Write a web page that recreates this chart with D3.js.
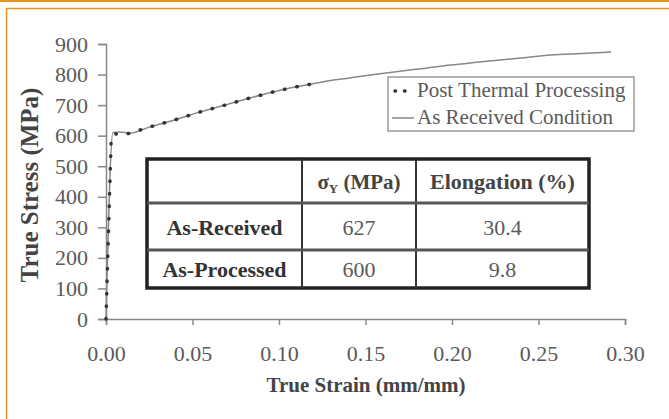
<!DOCTYPE html>
<html>
<head>
<meta charset="utf-8">
<script src="https://cdn.jsdelivr.net/npm/d3@7"></script>
<style>
  body { margin: 0; background: #fff; }
  svg { display: block; }
  text { font-family: "Liberation Serif", "Times New Roman", serif; }
</style>
</head>
<body>
<script>
// data
var receivedStrain = [0, 0.004, 0.008, 0.014, 0.025, 0.04, 0.054, 0.07, 0.083, 0.1, 0.112, 0.125, 0.141, 0.155, 0.17, 0.185, 0.199, 0.214, 0.228, 0.243, 0.257, 0.275, 0.292];
var receivedStress = [0, 610, 612, 608, 628, 652, 677, 702, 723, 748, 762, 776, 789, 800, 811, 821, 831, 840, 848, 856, 864, 869, 874];
var processedStrain = [0, 0.003, 0.005, 0.01, 0.014, 0.025, 0.04, 0.054, 0.07, 0.083, 0.1, 0.112, 0.122];
var processedStress = [0, 590, 606, 604, 608, 628, 652, 677, 702, 723, 748, 762, 772];

var xTicks = [0, 0.05, 0.10, 0.15, 0.20, 0.25, 0.30];
var yTicks = [0, 100, 200, 300, 400, 500, 600, 700, 800, 900];

var legendNames = ["Post Thermal Processing", "As Received Condition"];

var tableHead = ["", "σ", "Elongation (%)"];
var tableRows = ["As-Received", "As-Processed"];
var yieldVals = ["627", "600"];
var elongVals = ["30.4", "9.8"];

var W = 669, H = 419;
var svg = d3.select("body").append("svg")
    .attr("width", W)
    .attr("height", H);

svg.append("rect").attr("width", W).attr("height", H).attr("fill", "#fff");

// orange frame
svg.append("line").attr("x1", 0).attr("x2", W).attr("y1", 1).attr("y2", 1)
    .attr("stroke", "#e8921f").attr("stroke-width", 2);
svg.append("rect").attr("x", 6.5).attr("y", 8.5).attr("width", W).attr("height", H)
    .attr("fill", "none").attr("stroke", "#e8921f").attr("stroke-width", 1.5);

var x = d3.scaleLinear().domain([0, 0.30]).range([106, 625]);
var y = d3.scaleLinear().domain([0, 900]).range([319, 44]);

var grey = "#5a5a5a";

// axes
var xAxis = svg.append("g").attr("transform", "translate(0,319)")
    .call(d3.axisBottom(x).tickValues(xTicks).tickFormat(d3.format(".2f")).tickSizeOuter(0).tickSize(6).tickPadding(20));
var yAxis = svg.append("g").attr("transform", "translate(106,0)")
    .call(d3.axisLeft(y).tickValues(yTicks).tickSizeOuter(0).tickSize(8).tickPadding(10));

[xAxis, yAxis].forEach(function(g) {
  g.attr("font-family", null).attr("font-size", null);
  g.select(".domain").attr("stroke", "#888").attr("stroke-width", 1.5);
  g.selectAll(".tick line").attr("stroke", "#888").attr("stroke-width", 1.5);
  g.selectAll(".tick text").attr("fill", grey).attr("font-size", 22);
});

svg.append("text")
    .attr("x", 366).attr("y", 392)
    .attr("text-anchor", "middle")
    .attr("font-size", 21).attr("font-weight", "bold").attr("fill", "#444")
    .text("True Strain (mm/mm)");

svg.append("text")
    .attr("transform", "translate(38,185) rotate(-90)")
    .attr("text-anchor", "middle")
    .attr("font-size", 25).attr("font-weight", "bold").attr("fill", "#444")
    .text("True Stress (MPa)");

// curves
var line = d3.line().x(function(d) { return x(d[0]); }).y(function(d) { return y(d[1]); });

var received = receivedStrain.map(function(s, i) { return [s, receivedStress[i]]; });
var processed = processedStrain.map(function(s, i) { return [s, processedStress[i]]; });

svg.append("path").datum(received)
    .attr("d", line.curve(d3.curveMonotoneX))
    .attr("fill", "none").attr("stroke", "#888").attr("stroke-width", 1.5);

svg.append("path").datum(processed)
    .attr("d", d3.line().x(function(d) { return x(d[0]); }).y(function(d) { return y(d[1]); }))
    .attr("fill", "none").attr("stroke", "#333").attr("stroke-width", 3.5)
    .attr("stroke-linecap", "round").attr("stroke-dasharray", "0.5,12");

// legend
var lg = svg.append("g").attr("transform", "translate(388,77)");
lg.append("rect").attr("width", 246).attr("height", 54)
    .attr("fill", "#fff").attr("stroke", "#999").attr("stroke-width", 1.5);
lg.append("line").attr("x1", 7).attr("x2", 22).attr("y1", 14).attr("y2", 14)
    .attr("stroke", "#333").attr("stroke-width", 3.5).attr("stroke-linecap", "round")
    .attr("stroke-dasharray", "0.5,9");
lg.append("line").attr("x1", 4).attr("x2", 26).attr("y1", 41).attr("y2", 41)
    .attr("stroke", "#888").attr("stroke-width", 1.5);
lg.selectAll("text.leg").data(legendNames).enter().append("text")
    .attr("class", "leg")
    .attr("x", 29).attr("y", function(d, i) { return 20 + i * 27; })
    .attr("font-size", 21).attr("fill", grey)
    .text(function(d) { return d; });

// table
var colX = [147, 302, 416, 589];
var rowY = [159, 203, 250, 288];
var tb = svg.append("g");
tb.append("rect").attr("x", colX[0]).attr("y", rowY[0])
    .attr("width", colX[3] - colX[0]).attr("height", rowY[3] - rowY[0])
    .attr("fill", "#fff").attr("stroke", "#222").attr("stroke-width", 3.5);
[colX[1], colX[2]].forEach(function(cx) {
  tb.append("line").attr("x1", cx).attr("x2", cx).attr("y1", rowY[0]).attr("y2", rowY[3])
      .attr("stroke", "#333").attr("stroke-width", 2);
});
[rowY[1], rowY[2]].forEach(function(ry) {
  tb.append("line").attr("x1", colX[0]).attr("x2", colX[3]).attr("y1", ry).attr("y2", ry)
      .attr("stroke", "#555").attr("stroke-width", 3);
});

function mid(a, i) { return (a[i] + a[i + 1]) / 2; }

// header
var h1 = tb.append("text").attr("x", mid(colX, 1)).attr("y", mid(rowY, 0) + 8)
    .attr("text-anchor", "middle").attr("font-size", 21).attr("fill", "#444").attr("font-weight", "bold");
h1.append("tspan").text(tableHead[1]);
h1.append("tspan").attr("font-size", 13).attr("dy", 4).text("Y");
h1.append("tspan").attr("dy", -4).text(" (MPa)");
tb.append("text").attr("x", mid(colX, 2)).attr("y", mid(rowY, 0) + 8)
    .attr("text-anchor", "middle").attr("font-size", 22).attr("font-weight", "bold").attr("fill", "#444")
    .text(tableHead[2]);

tableRows.forEach(function(r, i) {
  var ty = mid(rowY, i + 1) + 8;
  tb.append("text").attr("x", mid(colX, 0)).attr("y", ty).attr("text-anchor", "middle")
      .attr("font-size", 22).attr("font-weight", "bold").attr("fill", "#333").text(r);
  tb.append("text").attr("x", mid(colX, 1)).attr("y", ty).attr("text-anchor", "middle")
      .attr("font-size", 22).attr("fill", grey).text(yieldVals[i]);
  tb.append("text").attr("x", mid(colX, 2)).attr("y", ty).attr("text-anchor", "middle")
      .attr("font-size", 22).attr("fill", grey).text(elongVals[i]);
});
</script>
</body>
</html>
